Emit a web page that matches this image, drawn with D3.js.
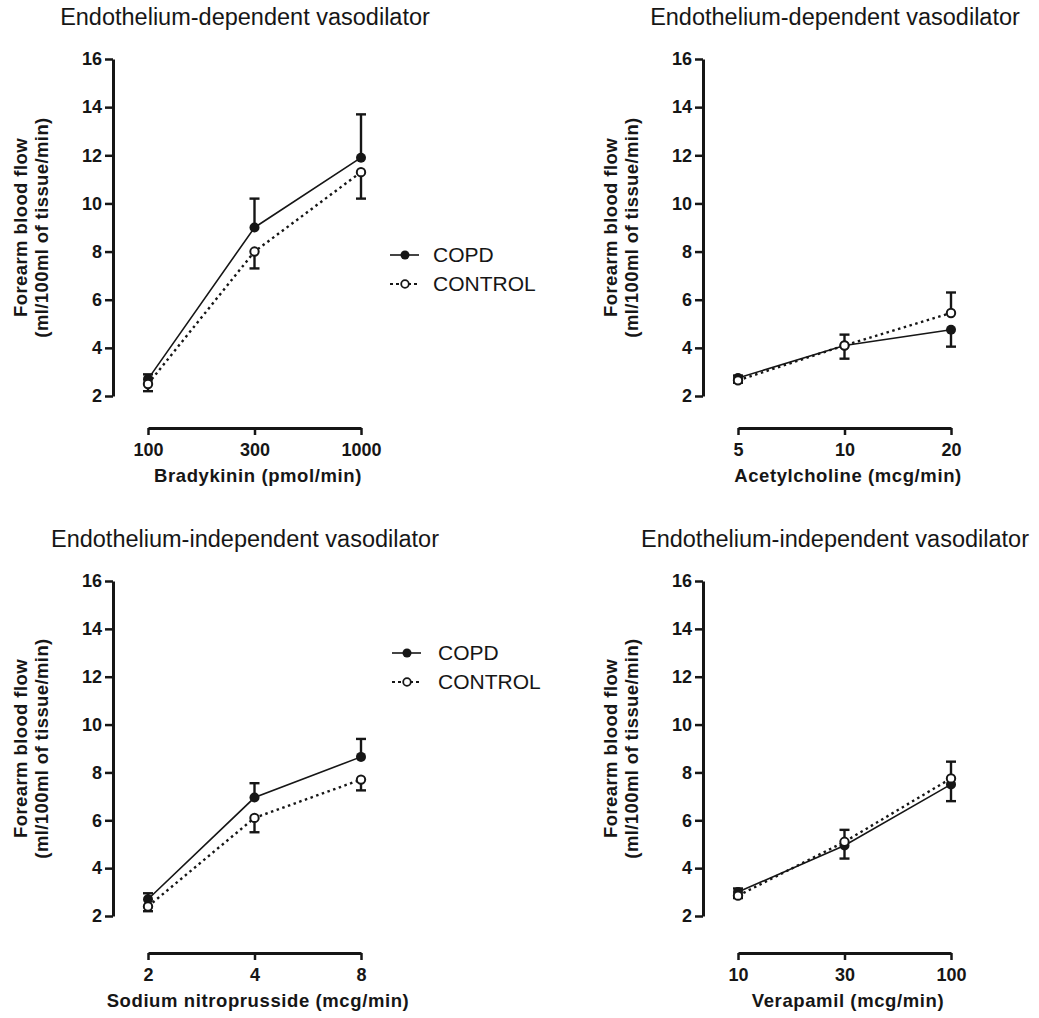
<!DOCTYPE html>
<html>
<head>
<meta charset="utf-8">
<script src="https://cdn.jsdelivr.net/npm/d3@7"></script>
<style>
  body { margin: 0; background: #fff; }
  svg { font-family: "Liberation Sans", Arial, Helvetica, sans-serif; }
</style>
</head>
<body>
<div id="chart"></div>
<script>
// doses (x categories)
const bradykininDoses = ["100", "300", "1000"];
const achDoses = ["5", "10", "20"];
const snpDoses = ["2", "4", "8"];
const verapamilDoses = ["10", "30", "100"];

// forearm blood flow, mean (ml/100ml of tissue/min)
const bradykininCopd = [2.7, 9.0, 11.9];
const bradykininControl = [2.5, 8.0, 11.3];
const achCopd = [2.75, 4.1, 4.75];
const achControl = [2.65, 4.1, 5.45];
const snpCopd = [2.7, 6.95, 8.65];
const snpControl = [2.4, 6.1, 7.7];
const verapamilCopd = [3.0, 4.95, 7.5];
const verapamilControl = [2.85, 5.1, 7.75];

// SEM; the sign is the side the bar is drawn on (+ up, - down)
const bradykininCopdErr = [0.2, 1.2, 1.8];
const bradykininControlErr = [-0.3, -0.7, -1.1];
const achCopdErr = [0.1, -0.55, -0.7];
const achControlErr = [-0.1, 0.45, 0.85];
const snpCopdErr = [0.25, 0.6, 0.75];
const snpControlErr = [-0.2, -0.6, -0.45];
const verapamilCopdErr = [0.15, -0.55, -0.7];
const verapamilControlErr = [-0.1, 0.5, 0.7];

const yTicks = [2, 4, 6, 8, 10, 12, 14, 16];
const titles = [
  "Endothelium-dependent vasodilator",
  "Endothelium-dependent vasodilator",
  "Endothelium-independent vasodilator",
  "Endothelium-independent vasodilator"
];
const xTitles = [
  "Bradykinin (pmol/min)",
  "Acetylcholine (mcg/min)",
  "Sodium nitroprusside (mcg/min)",
  "Verapamil (mcg/min)"
];
const yTitle = ["Forearm blood flow", "(ml/100ml of tissue/min)"];
const seriesNames = ["COPD", "CONTROL"];

const width = 1039;
const height = 1018;
const ink = "#161616";

const svg = d3.select("#chart")
    .append("svg")
    .attr("width", width)
    .attr("height", height);

const panels = [
    { x0: 0, top: 59, bottom: 396, axisY: 428, titleY: 25,
      doses: bradykininDoses, copd: bradykininCopd, copdErr: bradykininCopdErr,
      control: bradykininControl, controlErr: bradykininControlErr, legend: [390, 255, 433] },
    { x0: 590, top: 59, bottom: 396, axisY: 428, titleY: 25,
      doses: achDoses, copd: achCopd, copdErr: achCopdErr,
      control: achControl, controlErr: achControlErr },
    { x0: 0, top: 581, bottom: 916, axisY: 953, titleY: 547,
      doses: snpDoses, copd: snpCopd, copdErr: snpCopdErr,
      control: snpControl, controlErr: snpControlErr, legend: [392, 653, 438] },
    { x0: 590, top: 581, bottom: 916, axisY: 953, titleY: 547,
      doses: verapamilDoses, copd: verapamilCopd, copdErr: verapamilCopdErr,
      control: verapamilControl, controlErr: verapamilControlErr }
];

panels.forEach(function(p, k) {
    const g = svg.append("g");
    const x = d3.scalePoint().domain(p.doses).range([p.x0 + 148, p.x0 + 361]);
    const y = d3.scaleLinear().domain([2, 16]).range([p.bottom, p.top]);

    // title
    g.append("text")
        .attr("x", p.x0 + 245)
        .attr("y", p.titleY)
        .attr("text-anchor", "middle")
        .attr("font-size", 23.5)
        .attr("fill", ink)
        .text(titles[k]);

    // y axis
    const yAxis = g.append("g")
        .attr("transform", `translate(${p.x0 + 113},0)`)
        .call(d3.axisLeft(y).tickValues(yTicks).tickSize(8).tickSizeOuter(0).tickPadding(3));
    yAxis.attr("font-size", 18).attr("font-family", null).attr("font-weight", "bold");
    yAxis.select(".domain").attr("stroke", ink).attr("stroke-width", 3);
    yAxis.selectAll(".tick line").attr("stroke", ink).attr("stroke-width", 2.5);
    yAxis.selectAll(".tick text").attr("fill", ink);

    // x axis
    const xAxis = g.append("g")
        .attr("transform", `translate(0,${p.axisY})`)
        .call(d3.axisBottom(x).tickSize(7).tickSizeOuter(0).tickPadding(8));
    xAxis.attr("font-size", 18).attr("font-family", null).attr("font-weight", "bold");
    xAxis.select(".domain").attr("stroke", ink).attr("stroke-width", 3);
    xAxis.selectAll(".tick line").attr("stroke", ink).attr("stroke-width", 2.5);
    xAxis.selectAll(".tick text").attr("fill", ink);

    // axis titles
    g.append("text")
        .attr("x", p.x0 + 258)
        .attr("y", p.axisY + 54)
        .attr("text-anchor", "middle")
        .attr("font-size", 18.5)
        .attr("font-weight", "bold")
        .attr("letter-spacing", 0.6)
        .attr("fill", ink)
        .text(xTitles[k]);

    const yMid = (p.top + p.bottom) / 2;
    yTitle.forEach(function(line, j) {
        g.append("text")
            .attr("transform", `translate(${p.x0 + 27 + j * 21},${yMid}) rotate(-90)`)
            .attr("text-anchor", "middle")
            .attr("font-size", 18.5)
            .attr("font-weight", "bold")
            .attr("letter-spacing", 0.4)
            .attr("fill", ink)
            .text(line);
    });

    const line = d3.line()
        .x((d, i) => x(p.doses[i]))
        .y(d => y(d));

    // connecting lines
    g.append("path")
        .datum(p.copd)
        .attr("d", line)
        .attr("fill", "none")
        .attr("stroke", ink)
        .attr("stroke-width", 1.6);
    g.append("path")
        .datum(p.control)
        .attr("d", line)
        .attr("fill", "none")
        .attr("stroke", ink)
        .attr("stroke-width", 2.4)
        .attr("stroke-dasharray", "2.5,3.5");

    // error bars (one-sided)
    [[p.copd, p.copdErr], [p.control, p.controlErr]].forEach(function(s) {
        const means = s[0], errs = s[1];
        const eg = g.append("g").attr("stroke", ink).attr("stroke-width", 2.4);
        eg.selectAll("line.bar")
            .data(means)
            .enter().append("line")
            .attr("class", "bar")
            .attr("x1", (d, i) => x(p.doses[i]))
            .attr("x2", (d, i) => x(p.doses[i]))
            .attr("y1", d => y(d))
            .attr("y2", (d, i) => y(d + errs[i]));
        eg.selectAll("line.cap")
            .data(means)
            .enter().append("line")
            .attr("class", "cap")
            .attr("x1", (d, i) => x(p.doses[i]) - 5)
            .attr("x2", (d, i) => x(p.doses[i]) + 5)
            .attr("y1", (d, i) => y(d + errs[i]))
            .attr("y2", (d, i) => y(d + errs[i]));
    });

    // markers
    g.selectAll("circle.copd")
        .data(p.copd)
        .enter().append("circle")
        .attr("class", "copd")
        .attr("cx", (d, i) => x(p.doses[i]))
        .attr("cy", d => y(d))
        .attr("r", 5)
        .attr("fill", ink);
    g.selectAll("circle.control")
        .data(p.control)
        .enter().append("circle")
        .attr("class", "control")
        .attr("cx", (d, i) => x(p.doses[i]))
        .attr("cy", d => y(d))
        .attr("r", 4.2)
        .attr("fill", "#fff")
        .attr("stroke", ink)
        .attr("stroke-width", 2);

    // legend
    if (p.legend) {
        const lx = p.legend[0], ly = p.legend[1], tx = p.legend[2];
        const lg = g.append("g");
        seriesNames.forEach(function(name, j) {
            const yy = ly + j * 29;
            lg.append("line")
                .attr("x1", lx).attr("x2", lx + 29)
                .attr("y1", yy).attr("y2", yy)
                .attr("stroke", ink)
                .attr("stroke-width", j === 0 ? 1.6 : 2.2)
                .attr("stroke-dasharray", j === 0 ? null : "3,3");
            lg.append("circle")
                .attr("cx", lx + 15).attr("cy", yy)
                .attr("r", j === 0 ? 4.5 : 3.8)
                .attr("fill", j === 0 ? ink : "#fff")
                .attr("stroke", ink)
                .attr("stroke-width", j === 0 ? 0 : 1.8);
            lg.append("text")
                .attr("x", tx)
                .attr("y", yy + 7)
                .attr("font-size", 21)
                .attr("fill", ink)
                .text(name);
        });
    }
});
</script>
</body>
</html>
